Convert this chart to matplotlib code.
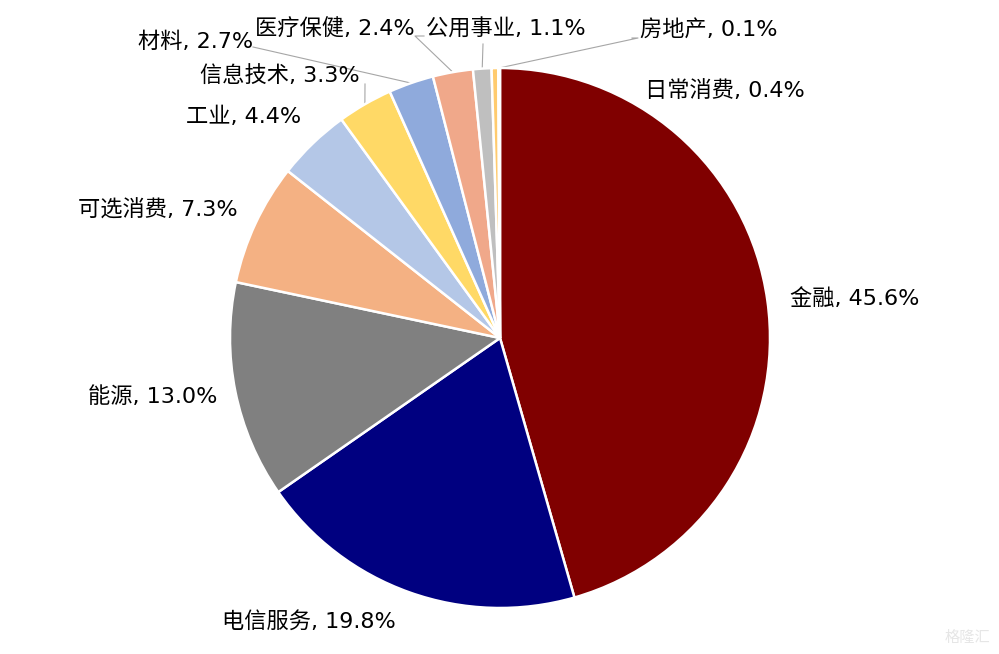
"""Sector weights pie chart."""

import matplotlib
matplotlib.use('Agg')
import matplotlib.pyplot as plt
import numpy as np


plt.rcParams['font.family'] = ['DejaVu Sans', 'Noto Sans CJK SC']

# ==============================================================================
# data
# ==============================================================================

sectors = ['金融', '电信服务', '能源', '可选消费', '工业', '信息技术',
           '材料', '医疗保健', '公用事业', '日常消费', '房地产']
weights = [45.6, 19.8, 13.0, 7.3, 4.4, 3.3, 2.7, 2.4, 1.1, 0.4, 0.1]
colors  = ['#800000', '#000080', '#808080', '#F4B183', '#B4C7E7', '#FFD966',
           '#8FAADC', '#F0A88A', '#BFBFBF', '#FFCB6E', '#A9BCD6']

# ==============================================================================
# layout (pixel coords, y measured from top)
# ==============================================================================

W, H     = 999, 654
CENTER   = (500, 338)
RADIUS   = 270
FONTSIZE = 16

# label anchor: (x, y, ha)
label_pos = {
    '金融':     (790, 298, 'left'),
    '电信服务': (222, 621, 'left'),
    '能源':     (88, 397, 'left'),
    '可选消费': (78, 210, 'left'),
    '工业':     (186, 117, 'left'),
    '信息技术': (200, 75, 'left'),
    '材料':     (138, 42, 'left'),
    '医疗保健': (255, 29, 'left'),
    '公用事业': (426, 29, 'left'),
    '日常消费': (645, 91, 'left'),
    '房地产':   (640, 29, 'left'),
}

# leader line start (near label) for the small slices
leader_start = {
    '信息技术': [(365, 84)],
    '材料':     [(253, 47)],
    '医疗保健': [(415, 36), (424, 36)],
    '公用事业': [(483, 44)],
    '房地产':   [(638, 38), (632, 38)],
}

# ==============================================================================
# draw
# ==============================================================================

fig = plt.figure(figsize=(W / 100, H / 100), dpi=100)
ax = fig.add_axes([0, 0, 1, 1])

cx, cy = CENTER[0], H - CENTER[1]
wedges, _ = ax.pie(weights,
                   colors=colors,
                   startangle=90,
                   counterclock=False,
                   center=(cx, cy),
                   radius=RADIUS,
                   wedgeprops=dict(edgecolor='white', linewidth=1.8),
                   frame=True)
ax.set_xlim(0, W)
ax.set_ylim(0, H)
ax.set_aspect('equal')
ax.axis('off')

for name, value, wedge in zip(sectors, weights, wedges):
    x, y, ha = label_pos[name]
    ax.text(x, H - y, '{0}, {1:.1f}%'.format(name, value),
            fontsize=FONTSIZE, ha=ha, va='center', color='#000000')
    if name in leader_start:
        theta = np.deg2rad(0.5 * (wedge.theta1 + wedge.theta2))
        ex = cx + RADIUS * np.cos(theta)
        ey = cy + RADIUS * np.sin(theta)
        pts = [(px, H - py) for px, py in leader_start[name]]
        pts.reverse()
        xs = [p[0] for p in pts] + [ex]
        ys = [p[1] for p in pts] + [ey]
        ax.plot(xs, ys, color='#A6A6A6', lw=0.8, zorder=0.5)

ax.text(990, H - 637, '格隆汇', fontsize=11, ha='right', va='center',
        color='#E6E6E6')

fig.savefig('out.png', dpi=100)
